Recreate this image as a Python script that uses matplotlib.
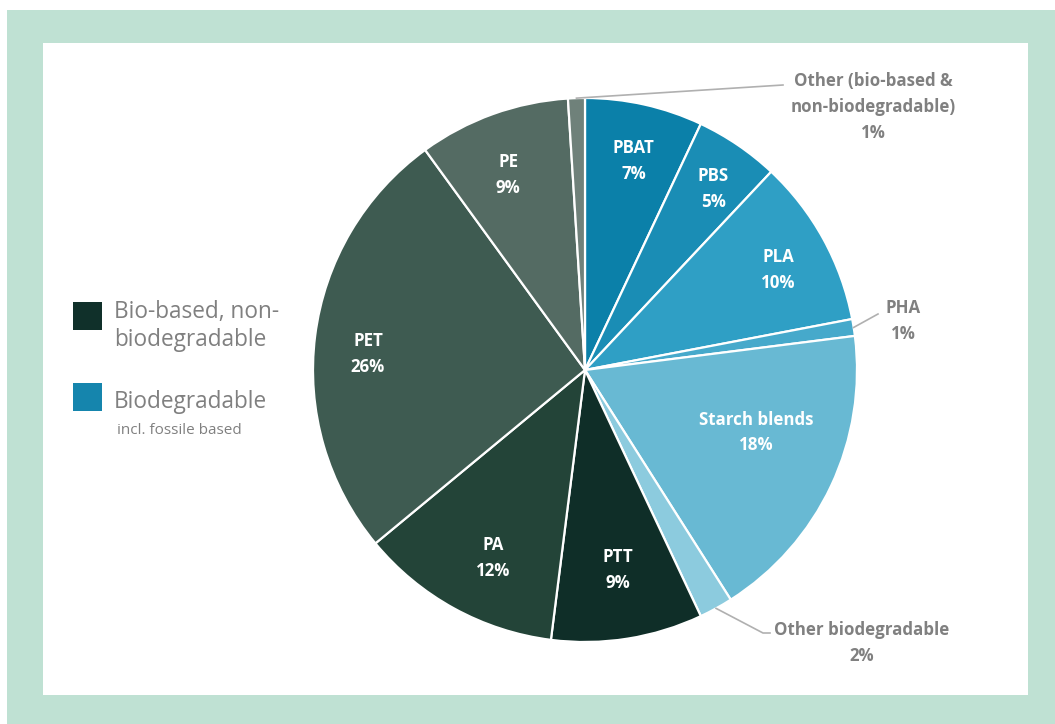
import numpy as np
import matplotlib
matplotlib.use('Agg')
import matplotlib.pyplot as plt
from matplotlib.patches import Rectangle

# ──────────────────────────────────────────────────────────────
# Data (clockwise from 12 o'clock)
# ──────────────────────────────────────────────────────────────
names = ["PBAT", "PBS", "PLA", "PHA", "Starch blends", "Other biodegradable",
         "PTT", "PA", "PET", "PE", "Other (bio-based &\nnon-biodegradable)"]
shares = [7, 5, 10, 1, 18, 2, 9, 12, 26, 9, 1]
colors = ["#0b80a9", "#1a8db5", "#2f9fc5", "#46a9cb", "#68b9d3", "#8ccbde",
          "#0f2e28", "#234438", "#3e5b51", "#546b63", "#6f817a"]
outside = {"PHA", "Other biodegradable", "Other (bio-based &\nnon-biodegradable)"}

legend_labels = [["Bio-based, non-", "biodegradable"], ["Biodegradable"]]
legend_colors = ["#10302a", "#1585ad"]
legend_note = "incl. fossile based"

FONT = "Open Sans"
GREY = "#808080"

W, H = 1055, 724
fig = plt.figure(figsize=(W / 100, H / 100), dpi=100, facecolor="white")

# frame: green border with white panel
bg = fig.add_axes([0, 0, 1, 1])
bg.set_xlim(0, W)
bg.set_ylim(H, 0)
bg.axis("off")
bg.add_patch(Rectangle((7, 10), W - 7, H - 10, color="#bfe1d3", lw=0))
bg.add_patch(Rectangle((43, 43), 1028 - 43, 695 - 43, color="white", lw=0))

# pie axes (center 585,370 px, radius 272 px)
cx, cy, R = 585, 370, 272
ax = fig.add_axes([(cx - R) / W, (H - cy - R) / H, 2 * R / W, 2 * R / H])

wedges, _ = ax.pie(shares, colors=colors, startangle=90, counterclock=False,
                   radius=1, wedgeprops=dict(edgecolor="white", linewidth=1.6))
ax.set_xlim(-1, 1)
ax.set_ylim(-1, 1)
ax.axis("off")

# label placement inside wedges: (radius, angle shift from wedge middle)
label_pos = {"PBAT": (0.79, -0.5), "PBS": (0.815, -1.1), "PLA": (0.80, -1.4),
             "Starch blends": (0.67, 5.1), "PTT": (0.745, 0.4),
             "PA": (0.77, 2.7), "PET": (0.80, 3.0), "PE": (0.77, 1.7)}
for w, name, v in zip(wedges, names, shares):
    if name in outside:
        continue
    r, dt = label_pos[name]
    mid = np.deg2rad((w.theta1 + w.theta2) / 2 + dt)
    ax.text(r * np.cos(mid), r * np.sin(mid), f"{name}\n{v}%", color="white",
            ha="center", va="center", fontsize=12.2, fontweight="bold",
            family=FONT, linespacing=1.55)


def px(x, y):
    return (x - cx) / R, (cy - y) / R


def edge(name):
    w = wedges[names.index(name)]
    mid = np.deg2rad((w.theta1 + w.theta2) / 2)
    return np.cos(mid), np.sin(mid)


# outside labels with leader lines
callouts = [
    ("Other (bio-based &\nnon-biodegradable)", [(783, 85)], (873, 107)),
    ("PHA", [(878, 314)], (903, 321)),
    ("Other biodegradable", [(763, 633), (770, 633)], (862, 643)),
]
for name, pts, (tx, ty) in callouts:
    x0, y0 = edge(name)
    xs = [x0] + [px(*p)[0] for p in pts]
    ys = [y0] + [px(*p)[1] for p in pts]
    ax.plot(xs, ys, color="#b0b0b0", lw=1.2, clip_on=False)
    v = shares[names.index(name)]
    ax.text(*px(tx, ty), f"{name}\n{v}%", color=GREY, ha="center", va="center",
            fontsize=12.2, fontweight="bold", family=FONT, linespacing=1.55,
            clip_on=False)

# legend
sq_top = [302, 383]
line_y = [[312, 340], [402]]
for lines, col, top, ys in zip(legend_labels, legend_colors, sq_top, line_y):
    bg.add_patch(Rectangle((73, top), 29, 28, color=col, lw=0))
    for txt, y in zip(lines, ys):
        bg.text(114, y, txt, color=GREY, fontsize=16.3, family=FONT,
                ha="left", va="center")
bg.text(117, 430, legend_note, color=GREY, fontsize=11, family=FONT,
        ha="left", va="center")

fig.savefig("out.png", dpi=100, facecolor="white")
